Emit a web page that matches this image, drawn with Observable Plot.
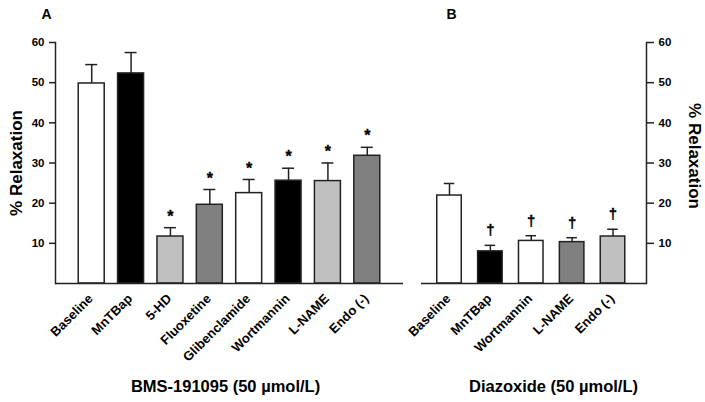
<!DOCTYPE html>
<html>
<head>
<meta charset="utf-8">
<script src="https://cdn.jsdelivr.net/npm/d3@7"></script>
<script src="https://cdn.jsdelivr.net/npm/@observablehq/plot@0.6"></script>
<style>
  html, body { margin: 0; padding: 0; background: #fff; }
  #wrap { display: flex; width: 705px; height: 402px; overflow: hidden; }
</style>
</head>
<body>
<div id="wrap"></div>
<script>
// ---- Data ----
const catsA = ["Baseline", "MnTBap", "5-HD", "Fluoxetine", "Glibenclamide", "Wortmannin", "L-NAME", "Endo (-)"];
const meanA = [49.8, 52.3, 11.7, 19.6, 22.5, 25.6, 25.5, 31.8];
const errA  = [4.7, 5.2, 2.2, 3.8, 3.4, 3.1, 4.5, 2.1];
const sigA  = ["", "", "*", "*", "*", "*", "*", "*"];

const catsB = ["Baseline", "MnTBap", "Wortmannin", "L-NAME", "Endo (-)"];
const meanB = [21.9, 8.0, 10.6, 10.3, 11.7];
const errB  = [3.0, 1.5, 1.3, 1.1, 1.8];
const sigB  = ["", "\u2020", "\u2020", "\u2020", "\u2020"];

const yTicks = [10, 20, 30, 40, 50, 60];
const titleA = "BMS-191095 (50 \u00b5mol/L)";
const titleB = "Diazoxide (50 \u00b5mol/L)";
const yLabel = "% Relaxation";

// ---- Styles (kept separate from data) ----
const WHITE = "#ffffff", BLACK = "#000000", LIGHT = "#c0c0c0", DARK = "#808080";
const fillsA = [WHITE, BLACK, LIGHT, DARK, WHITE, BLACK, LIGHT, DARK];
const fillsB = [WHITE, BLACK, WHITE, DARK, LIGHT];
const INK = "#222";
const FONT = "'Liberation Sans', Arial, Helvetica, sans-serif";

const dataA = catsA.map((name, i) => ({name, value: meanA[i], err: errA[i], sig: sigA[i], fill: fillsA[i]}));
const dataB = catsB.map((name, i) => ({name, value: meanB[i], err: errB[i], sig: sigB[i], fill: fillsB[i]}));

function barMarks(data, sigSize, sigDy) {
  return [
    Plot.ruleX(data, {x: "name", y1: "value", y2: d => d.value + d.err, stroke: INK, strokeWidth: 1.5}),
    Plot.tickY(data, {x: "name", y: d => d.value + d.err, stroke: INK, strokeWidth: 1.5, inset: 7}),
    Plot.barY(data, {x: "name", y: "value", fill: "fill", stroke: INK, strokeWidth: 1.5}),
    Plot.text(data, {x: "name", y: d => d.value + d.err, text: "sig", dy: sigDy, fontSize: sigSize, fontWeight: "bold", fill: "#000", stroke: "#000", strokeWidth: 0.3, textAnchor: "middle", lineAnchor: "middle"})
  ];
}

const chartA = Plot.plot({
  width: 410, height: 402,
  marginTop: 42, marginBottom: 119, marginLeft: 55, marginRight: 7,
  style: {fontFamily: FONT, color: "#000", background: "#fff", overflow: "visible"},
  x: {domain: catsA, range: [55, 403], paddingInner: 0.34, paddingOuter: 0.59, round: false, axis: null},
  y: {domain: [0, 60], axis: null},
  color: {type: "identity"},
  marks: [
    ...barMarks(dataA, 16, -11),
    Plot.axisY({ticks: yTicks, tickSize: 6, tickPadding: 5, fontSize: 11.5, fontWeight: "bold", strokeWidth: 1.5, label: null, stroke: INK}),
    Plot.frame({anchor: "left", strokeWidth: 1.5, stroke: INK}),
    Plot.ruleY([0], {strokeWidth: 1.5, stroke: INK}),
    Plot.text(catsA, {x: d => d, text: d => d, frameAnchor: "bottom", dy: 13, dx: -1, rotate: -45, textAnchor: "end", lineAnchor: "middle", fontSize: 13, fontWeight: "bold"}),
    Plot.text([titleA], {text: d => d, frameAnchor: "bottom", dx: -4, dy: 103, textAnchor: "middle", lineAnchor: "middle", fontSize: 16.5, fontWeight: "bold"}),
    Plot.text(["A"], {text: d => d, frameAnchor: "top-left", dx: -9, dy: -28, textAnchor: "middle", lineAnchor: "middle", fontSize: 14, fontWeight: "bold"}),
    Plot.text([yLabel], {text: d => d, frameAnchor: "left", dx: -39, dy: 0, rotate: -90, textAnchor: "middle", lineAnchor: "middle", fontSize: 17, fontWeight: "bold"})
  ]
});

const chartB = Plot.plot({
  width: 295, height: 402,
  marginTop: 42, marginBottom: 119, marginLeft: 11, marginRight: 59,
  style: {fontFamily: FONT, color: "#000", background: "#fff", overflow: "visible"},
  x: {domain: catsB, range: [11, 230.5], paddingInner: 0.4, paddingOuter: 0.385, round: false, axis: null},
  y: {domain: [0, 60], axis: null},
  color: {type: "identity"},
  marks: [
    ...barMarks(dataB, 15, -15),
    Plot.axisY({anchor: "right", ticks: yTicks, tickSize: 7, tickPadding: 5, fontSize: 11.5, fontWeight: "bold", strokeWidth: 1.5, label: null, stroke: INK}),
    Plot.frame({anchor: "right", strokeWidth: 1.5, stroke: INK}),
    Plot.ruleY([0], {strokeWidth: 1.5, stroke: INK}),
    Plot.text(catsB, {x: d => d, text: d => d, frameAnchor: "bottom", dy: 13, dx: -1, rotate: -45, textAnchor: "end", lineAnchor: "middle", fontSize: 13, fontWeight: "bold"}),
    Plot.text([titleB], {text: d => d, frameAnchor: "bottom", dx: 19.5, dy: 103, textAnchor: "middle", lineAnchor: "middle", fontSize: 16.5, fontWeight: "bold"}),
    Plot.text(["B"], {text: d => d, frameAnchor: "top-left", dx: 30, dy: -28, textAnchor: "middle", lineAnchor: "middle", fontSize: 14, fontWeight: "bold"}),
    Plot.text([yLabel], {text: d => d, frameAnchor: "right", dx: 48, dy: -7, rotate: 90, textAnchor: "middle", lineAnchor: "middle", fontSize: 17, fontWeight: "bold"})
  ]
});

const wrap = document.getElementById("wrap");
wrap.appendChild(chartA);
wrap.appendChild(chartB);
</script>
</body>
</html>
